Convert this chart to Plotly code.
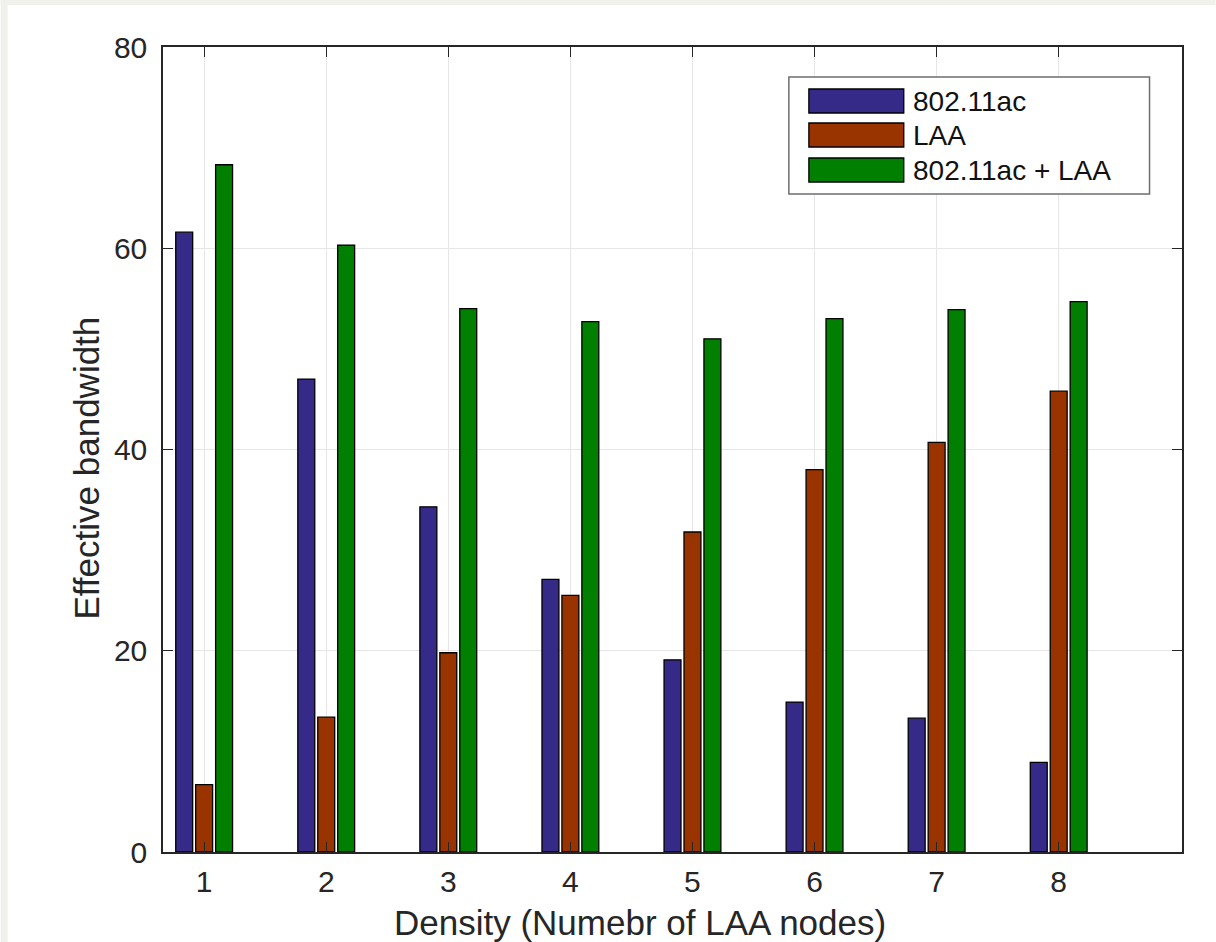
import plotly.graph_objects as go

# ---- data ----
densities = [1, 2, 3, 4, 5, 6, 7, 8]
series_names = ["802.11ac", "LAA", "802.11ac + LAA"]
wifi_bw = [61.6, 47.0, 34.3, 27.1, 19.1, 14.9, 13.3, 8.9]
laa_bw = [6.7, 13.4, 19.8, 25.5, 31.8, 38.0, 40.7, 45.8]
total_bw = [68.3, 60.3, 54.0, 52.7, 51.0, 53.0, 53.9, 54.7]
series_colors = ["#352a87", "#993300", "#007f00"]
y_ticks = [0, 20, 40, 60, 80]
x_title = "Density (Numebr of LAA nodes)"
y_title = "Effective bandwidth"

W, H = 1216, 942
L, R, T, B = 162.5, 1182.5, 47, 852  # plot area in pixels


def px(x):
    return (x - L) / (R - L)


def py(y):
    return (B - y) / (B - T)


fig = go.Figure()
for name, vals, col in zip(series_names, [wifi_bw, laa_bw, total_bw], series_colors):
    fig.add_trace(go.Bar(
        x=densities, y=vals, name=name,
        marker=dict(color=col, line=dict(color="#000000", width=1.3)),
        showlegend=False,
    ))

axis_col = "#262626"
font_fam = "Liberation Sans, Arial, Helvetica, sans-serif"

fig.update_layout(
    width=W, height=H,
    margin=dict(l=L, r=W - R, t=T, b=H - B, autoexpand=False),
    paper_bgcolor="white", plot_bgcolor="white",
    barmode="group", bargap=0.51, bargroupgap=0.15,
    font=dict(family=font_fam, color=axis_col),
    xaxis=dict(
        range=[0.663, 9.01], tickvals=densities, ticktext=[str(d) for d in densities],
        showgrid=True, gridcolor="#e6e6e6", gridwidth=1,
        showline=True, linecolor=axis_col, linewidth=1.5, mirror="ticks",
        ticks="inside", ticklen=10, tickcolor=axis_col, tickwidth=1,
        tickfont=dict(size=30, color=axis_col), ticklabelstandoff=2,
        zeroline=False, fixedrange=True, automargin=False,
    ),
    yaxis=dict(
        range=[0, 80], tickvals=y_ticks,
        showgrid=True, gridcolor="#e6e6e6", gridwidth=1,
        showline=True, linecolor=axis_col, linewidth=1.5, mirror="ticks",
        ticks="inside", ticklen=10, tickcolor=axis_col, tickwidth=1,
        tickfont=dict(size=30, color=axis_col), ticklabelstandoff=8,
        zeroline=False, fixedrange=True, automargin=False,
    ),
)

shapes = [
    # page border strips
    dict(type="rect", xref="paper", yref="paper", x0=px(0), x1=px(W), y0=py(5), y1=py(0),
         fillcolor="#eff1ea", line=dict(width=0), layer="below"),
    dict(type="rect", xref="paper", yref="paper", x0=px(0), x1=px(7), y0=py(H), y1=py(0),
         fillcolor="#eff1ea", line=dict(width=0), layer="below"),
    # legend box
    dict(type="rect", xref="paper", yref="paper", x0=px(789), x1=px(1150), y0=py(194), y1=py(77),
         fillcolor="white", line=dict(color="#6e6e6e", width=1.5)),
]

# axis titles (placed as in the reference)
annotations = [
    dict(xref="paper", yref="paper", x=px(640), y=py(922), text=x_title, showarrow=False,
         xanchor="center", yanchor="middle", font=dict(size=35, color=axis_col, family=font_fam)),
    dict(xref="paper", yref="paper", x=px(85), y=py(468), text=y_title, showarrow=False,
         textangle=-90, xanchor="center", yanchor="middle",
         font=dict(size=35, color=axis_col, family=font_fam)),
]

# ---- custom legend (MATLAB-style wide swatches) ----
row_tops = [89, 123, 158]
for name, col, top in zip(series_names, series_colors, row_tops):
    shapes.append(dict(type="rect", xref="paper", yref="paper",
                       x0=px(809), x1=px(904), y0=py(top + 24), y1=py(top),
                       fillcolor=col, line=dict(color="#000000", width=1.3)))
    annotations.append(dict(xref="paper", yref="paper", x=px(911), y=py(top + 12),
                            text=name, showarrow=False, xanchor="left", yanchor="middle",
                            font=dict(size=28, color="#111111", family=font_fam)))

fig.update_layout(shapes=shapes, annotations=annotations)

fig.write_html("out.html")
